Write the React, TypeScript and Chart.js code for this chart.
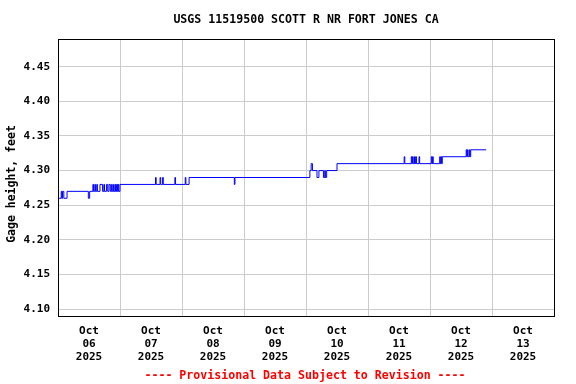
import { useEffect, useRef } from 'react';
import { Chart, registerables } from 'chart.js';

Chart.register(...registerables);

const TITLE = 'USGS 11519500 SCOTT R NR FORT JONES CA';
const Y_TITLE = 'Gage height, feet';
const FOOTER = '---- Provisional Data Subject to Revision ----';
const MONTH = 'Oct';
const YEAR = '2025';
const DAY_LABELS = ['06', '07', '08', '09', '10', '11', '12', '13'];
const Y_TICKS = [4.1, 4.15, 4.2, 4.25, 4.3, 4.35, 4.4, 4.45];
const Y_MIN = 4.09;
const Y_MAX = 4.49;
const X_MAX_HOURS = 192;

// hours since Oct 06 2025 00:00 at which the gage value changes
const HOURS = [
  0, 1.25, 1.5, 1.75, 2.25, 3.5, 11.75, 12.25,
  13.5, 13.75, 14.25, 14.5, 15, 15.25, 16.25, 17.25, 17.75, 18, 18.75, 19.25,
  19.75, 20.25, 20.75, 21, 21.5, 21.75, 22.25, 22.5, 22.75, 23, 23.25, 23.5, 24,
  37.75, 38, 39.5, 39.75, 40.5, 40.75, 45.25, 45.5, 49.25, 49.5, 50.75,
  68.25, 68.5,
  97.5, 98, 98.5, 100.25, 101, 102.75, 103.25, 103.5, 104, 108,
  134, 134.25, 136.75, 137, 137.25, 137.5, 138, 138.25, 138.5, 138.75, 139.75, 140,
  144.5, 144.75, 145, 145.25, 147.75, 148, 148.25, 148.5, 148.75,
  158, 158.25, 158.5, 158.75, 159.25, 159.5, 159.75, 165.75,
];
const GAGE = [
  4.26, 4.27, 4.26, 4.27, 4.26, 4.27, 4.26, 4.27,
  4.28, 4.27, 4.28, 4.27, 4.28, 4.27, 4.28, 4.27, 4.28, 4.27, 4.28, 4.27,
  4.28, 4.27, 4.28, 4.27, 4.28, 4.27, 4.28, 4.27, 4.28, 4.27, 4.28, 4.27, 4.28,
  4.29, 4.28, 4.29, 4.28, 4.29, 4.28, 4.29, 4.28, 4.29, 4.28, 4.29,
  4.28, 4.29,
  4.3, 4.31, 4.3, 4.29, 4.3, 4.29, 4.3, 4.29, 4.3, 4.31,
  4.32, 4.31, 4.32, 4.31, 4.32, 4.31, 4.32, 4.31, 4.32, 4.31, 4.32, 4.31,
  4.32, 4.31, 4.32, 4.31, 4.32, 4.31, 4.32, 4.31, 4.32,
  4.33, 4.32, 4.33, 4.32, 4.33, 4.32, 4.33, 4.33,
];

const FONT = '"DejaVu Sans Mono", monospace';

const textPlugin = {
  id: 'usgsText',
  afterDraw(chart: any) {
    const { ctx, chartArea } = chart;
    ctx.save();
    ctx.strokeStyle = '#000000';
    ctx.lineWidth = 1;
    ctx.strokeRect(
      Math.round(chartArea.left) + 0.5,
      Math.round(chartArea.top) + 0.5,
      Math.round(chartArea.right - chartArea.left),
      Math.round(chartArea.bottom - chartArea.top)
    );
    ctx.fillStyle = '#000000';
    ctx.textAlign = 'center';
    ctx.textBaseline = 'middle';
    ctx.font = `bold 11.6px ${FONT}`;
    ctx.fillText(TITLE, 306, 19.5);
    ctx.save();
    ctx.translate(12, 184);
    ctx.rotate(-Math.PI / 2);
    ctx.font = `bold 11.5px ${FONT}`;
    ctx.fillText(Y_TITLE, 0, 0);
    ctx.restore();
    ctx.fillStyle = '#ff0000';
    ctx.font = `bold 11.6px ${FONT}`;
    ctx.fillText(FOOTER, 305, 375.5);
    ctx.restore();
  },
};

export default function App() {
  const ref = useRef<HTMLCanvasElement>(null);
  useEffect(() => {
    document.body.style.margin = '0';
    const canvas = ref.current;
    if (!canvas) return;
    const chart = new Chart(canvas, {
      type: 'line',
      data: {
        datasets: [
          {
            data: HOURS.map((h, i) => ({ x: h, y: GAGE[i] })),
            stepped: true,
            borderColor: '#0000ff',
            borderWidth: 1,
            pointRadius: 0,
            fill: false,
          },
        ],
      },
      options: {
        animation: false,
        responsive: false,
        devicePixelRatio: 1,
        layout: { padding: { top: 39, right: 22, left: 0, bottom: 0 } },
        plugins: {
          legend: { display: false },
          tooltip: { enabled: false },
          title: { display: false },
        },
        scales: {
          x: {
            type: 'linear',
            min: 0,
            max: X_MAX_HOURS,
            afterBuildTicks: (scale: any) => {
              const t = [];
              for (let v = 0; v <= X_MAX_HOURS; v += 12) t.push({ value: v });
              scale.ticks = t;
            },
            afterFit: (scale: any) => {
              scale.height = 68;
            },
            grid: {
              color: (c: any) =>
                c.tick && c.tick.value % 24 === 0 ? '#cccccc' : 'rgba(0,0,0,0)',
              drawTicks: false,
              lineWidth: 1,
            },
            border: { display: true, color: '#000000', width: 1 },
            ticks: {
              autoSkip: false,
              maxRotation: 0,
              minRotation: 0,
              padding: 9,
              color: '#000000',
              font: { family: FONT, size: 11, weight: 'bold', lineHeight: 1.18 },
              callback: (v: any) => {
                const n = Number(v);
                if (n % 24 === 12) {
                  return [MONTH, DAY_LABELS[(n - 12) / 24], YEAR];
                }
                return '';
              },
            },
          },
          y: {
            min: Y_MIN,
            max: Y_MAX,
            afterBuildTicks: (scale: any) => {
              scale.ticks = Y_TICKS.map((value) => ({ value }));
            },
            afterFit: (scale: any) => {
              scale.width = 58;
            },
            grid: { color: '#cccccc', drawTicks: false, lineWidth: 1 },
            border: { display: true, color: '#000000', width: 1 },
            ticks: {
              padding: 8,
              color: '#000000',
              font: { family: FONT, size: 11, weight: 'bold' },
              callback: (v: any) => Number(v).toFixed(2),
            },
          },
        },
      },
      plugins: [textPlugin],
    } as any);
    return () => chart.destroy();
  }, []);
  return (
    <div style={{ width: 576, height: 384 }}>
      <canvas ref={ref} width={576} height={384} style={{ display: 'block' }} />
    </div>
  );
}
